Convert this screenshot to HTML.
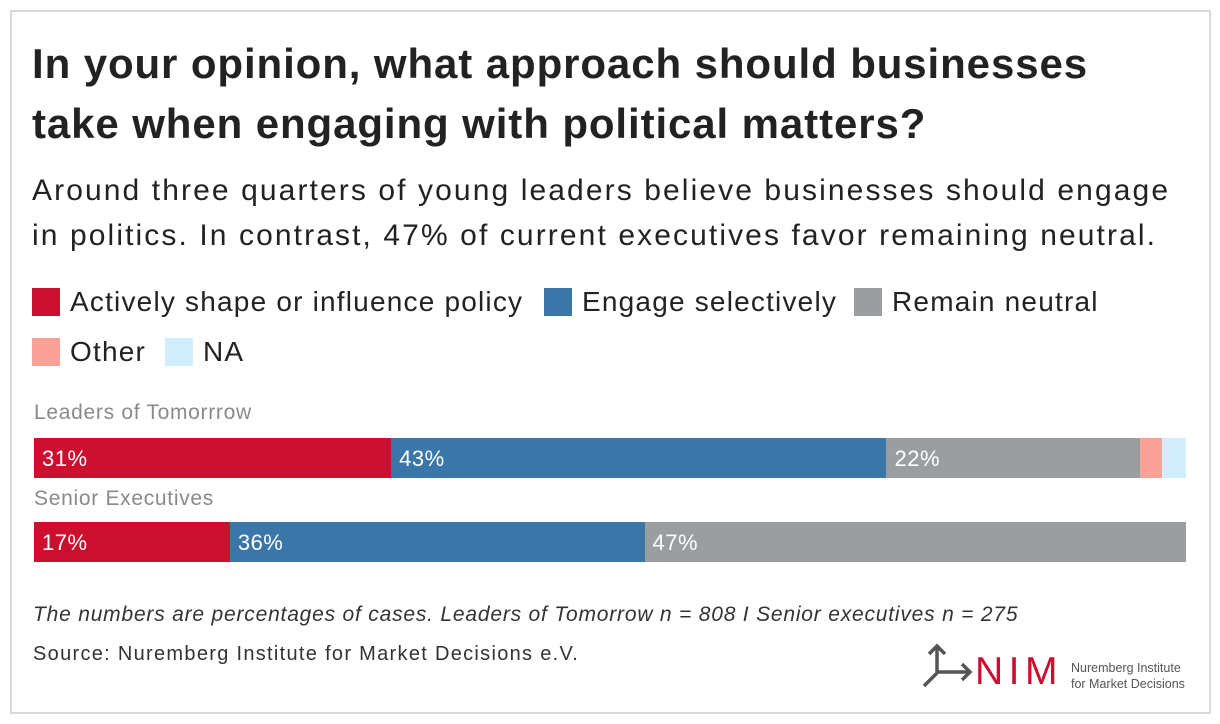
<!DOCTYPE html>
<html><head><meta charset="utf-8"><style>
body{margin:0;width:1220px;height:724px;background:#fff;font-family:"Liberation Sans",sans-serif;position:relative;overflow:hidden}
.frame{position:absolute;left:10px;top:10px;width:1197px;height:700px;border:2px solid #d9d9d9}
.abs{position:absolute;white-space:nowrap}
.title{left:32px;top:34px;font-size:42px;font-weight:bold;color:#222;line-height:60px;letter-spacing:0.9px}
.sub{left:32px;top:168px;font-size:30px;color:#222;line-height:45px;letter-spacing:2.1px}
.leg{font-size:28px;color:#222;display:flex;align-items:center;letter-spacing:1.2px}
.sw{width:28px;height:28px;margin-right:10px}
.cat{font-size:21px;color:#8a8a8a;left:34px;letter-spacing:0.7px}
.seg{position:absolute;height:40px}
.seg span{position:absolute;left:8px;top:8px;font-size:22px;color:#fff;letter-spacing:0.5px}
</style></head><body>
<div class="frame"></div>
<div class="abs title">In your opinion, what approach should businesses<br>take when engaging with political matters?</div>
<div class="abs sub">Around three quarters of young leaders believe businesses should engage<br>in politics. In contrast, 47% of current executives favor remaining neutral.</div>
<div class="abs leg" style="left:32px;top:286px"><div class="sw" style="background:#cc0f2e"></div>Actively shape or influence policy</div>
<div class="abs leg" style="left:544px;top:286px"><div class="sw" style="background:#3a77a8"></div>Engage selectively</div>
<div class="abs leg" style="left:854px;top:286px"><div class="sw" style="background:#9a9ea1"></div>Remain neutral</div>
<div class="abs leg" style="left:32px;top:336px"><div class="sw" style="background:#fca198"></div>Other</div>
<div class="abs leg" style="left:165px;top:336px"><div class="sw" style="background:#d0eefb"></div>NA</div>
<div class="abs cat" style="top:401px">Leaders of Tomorrrow</div>
<div class="abs cat" style="top:487px">Senior Executives</div>
<div id="bars"></div>
<div class="abs" style="left:33px;top:603px;font-size:21px;font-style:italic;color:#333;letter-spacing:0.8px">The numbers are percentages of cases. Leaders of Tomorrow n = 808 I Senior executives n = 275</div>
<div class="abs" style="left:33px;top:643px;font-size:20px;color:#333;letter-spacing:1.3px">Source: Nuremberg Institute for Market Decisions e.V.</div>
<svg class="abs" style="left:918px;top:640px" width="70" height="50">
<g stroke="#555" stroke-width="3.5" fill="none"><path d="M6 46 L20 32 L52 32"/><path d="M44 24 L52 32 L44 40"/><path d="M19 32 L19 6"/><path d="M11 14 L19 6 L27 14"/></g></svg>
<div class="abs" style="left:975px;top:652px;font-size:39px;color:#cc0f2e;letter-spacing:5.5px;line-height:40px">NIM</div>
<div class="abs" style="left:1071px;top:660px;font-size:12.5px;color:#555;line-height:16px">Nuremberg Institute<br>for Market Decisions</div>
<script>
const series=["Actively shape or influence policy","Engage selectively","Remain neutral","Other","NA"];
const colors=["#cc0f2e","#3a77a8","#9a9ea1","#fca198","#d0eefb"];
const categories=["Leaders of Tomorrow","Senior Executives"];
const leaders=[31,43,22,1.9,2.1];
const seniors=[17,36,47,0,0];
const labels=[["31%","43%","22%","",""],["17%","36%","47%","",""]];
const X0=34,W=1152,tops=[438,522];
const x=v=>v/100*W;
const host=document.getElementById('bars');
[leaders,seniors].forEach((vals,r)=>{
 let acc=0;
 vals.forEach((v,i)=>{
  if(v<=0)return;
  const d=document.createElement('div');
  d.className='seg';
  
  
  d.style.left=(X0+x(acc))+'px';d.style.top=tops[r]+'px';
  d.style.width=x(v)+'px';d.style.background=colors[i];
  if(labels[r][i]){const s=document.createElement('span');s.textContent=labels[r][i];d.appendChild(s);}
  host.appendChild(d);acc+=v;
 });
});
</script>
</body></html>
